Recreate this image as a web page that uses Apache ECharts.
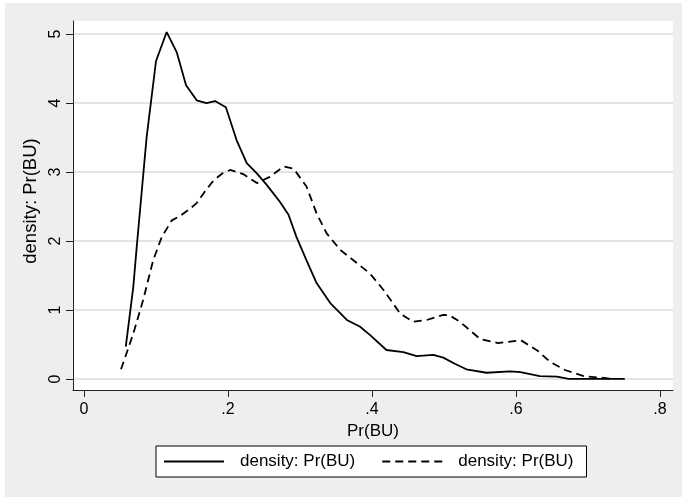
<!DOCTYPE html>
<html>
<head>
<meta charset="utf-8">
<script src="https://cdn.jsdelivr.net/npm/echarts@6/dist/echarts.min.js"></script>
<style>
html,body{margin:0;padding:0;background:#fff;}
#bg{position:absolute;left:5px;top:3px;width:677px;height:494px;background:#eeeeee;}
#chart{position:absolute;left:0;top:0;width:682px;height:497px;}
</style>
</head>
<body>
<div id="bg"></div>
<div id="chart"></div>
<script>
// Kernel density estimates, [Pr(BU), density]
const solidDensity = [
  [0.058,0.47],[0.0685,1.34],[0.073,1.89],[0.087,3.51],[0.100,4.61],[0.1148,5.03],
  [0.1287,4.74],[0.1417,4.26],[0.1565,4.04],[0.170,4.00],[0.182,4.03],[0.197,3.94],
  [0.212,3.46],[0.226,3.13],[0.240,2.98],[0.254,2.81],[0.272,2.57],[0.284,2.38],
  [0.295,2.06],[0.309,1.72],[0.323,1.39],[0.342,1.10],[0.365,0.855],[0.383,0.76],
  [0.397,0.64],[0.420,0.42],[0.4435,0.39],[0.462,0.33],[0.485,0.35],[0.499,0.31],
  [0.515,0.22],[0.531,0.14],[0.559,0.09],[0.592,0.11],[0.606,0.10],[0.633,0.04],
  [0.657,0.035],[0.673,0.0],[0.707,0.0],[0.751,0.0]
];
const dashedDensity = [
  [0.0514,0.14],[0.0685,0.66],[0.082,1.14],[0.096,1.72],[0.108,2.06],[0.122,2.30],
  [0.133,2.36],[0.145,2.45],[0.1565,2.55],[0.168,2.72],[0.180,2.88],[0.192,2.98],
  [0.203,3.03],[0.221,2.97],[0.240,2.84],[0.258,2.93],[0.277,3.08],[0.291,3.05],
  [0.309,2.79],[0.323,2.40],[0.337,2.11],[0.356,1.87],[0.379,1.68],[0.397,1.53],
  [0.416,1.29],[0.439,0.95],[0.457,0.83],[0.476,0.855],[0.499,0.93],[0.508,0.92],
  [0.522,0.83],[0.550,0.58],[0.575,0.52],[0.607,0.56],[0.630,0.41],[0.647,0.25],
  [0.668,0.13],[0.694,0.04],[0.717,0.02],[0.735,0.0]
];
const xTicks = [0, 0.2, 0.4, 0.6, 0.8];
const yTicks = [0, 1, 2, 3, 4, 5];
const seriesNames = ['density: Pr(BU)', 'density: Pr(BU) '];
const xTitle = 'Pr(BU)';
const yTitle = 'density: Pr(BU)';

const FONT = 'Liberation Sans, Arial, sans-serif';
const chart = echarts.init(document.getElementById('chart'), null, {renderer: 'canvas'});
const fmtX = v => (v === 0 ? '0' : String(+v.toFixed(1)).replace(/^0/, ''));

chart.setOption({
  animation: false,
  grid: {
    left: 73, top: 21, right: 9, bottom: 107,
    show: true, backgroundColor: '#ffffff', borderWidth: 0,
    containLabel: false, outerBoundsMode: 'none'
  },
  legend: {
    left: 156, top: 446,
    data: [
      {name: seriesNames[0]},
      {name: seriesNames[1]}
    ],
    selectedMode: false,
    itemWidth: 60, itemHeight: 14, itemGap: 26,
    padding: [7, 13, 7, 7],
    itemStyle: {opacity: 0, color: 'rgba(0,0,0,0)', borderWidth: 0},
    backgroundColor: '#ffffff', borderColor: '#000000', borderWidth: 1, borderRadius: 0,
    formatter: n => '{t|' + n.trim() + '}',
    textStyle: {
      fontFamily: FONT, fontSize: 17, color: '#000',
      rich: {t: {fontFamily: FONT, fontSize: 17, color: '#000', padding: [0, 0, 0, 11]}}
    }
  },
  xAxis: {
    type: 'value', min: -0.0153, max: 0.818,
    name: xTitle, nameLocation: 'middle', nameGap: 28,
    nameTextStyle: {fontFamily: FONT, fontSize: 17, color: '#000'},
    axisLine: {show: true, onZero: false, lineStyle: {color: '#222', width: 1}},
    axisTick: {show: true, customValues: xTicks, length: 7, lineStyle: {color: '#222', width: 1}},
    axisLabel: {customValues: xTicks, formatter: fmtX, fontFamily: FONT, fontSize: 16, color: '#000', margin: 12},
    splitLine: {show: false}
  },
  yAxis: {
    type: 'value', min: -0.16, max: 5.19,
    name: yTitle, nameLocation: 'middle', nameGap: 25, nameRotate: 90,
    nameTextStyle: {fontFamily: FONT, fontSize: 18.5, color: '#000', padding: [0, 0, 0, 9]},
    axisLine: {show: true, onZero: false, lineStyle: {color: '#222', width: 1}},
    axisTick: {show: true, customValues: yTicks, length: 7, lineStyle: {color: '#222', width: 1}},
    axisLabel: {customValues: yTicks, rotate: 90, fontFamily: FONT, fontSize: 16, color: '#000', margin: 9},
    splitLine: {show: true, lineStyle: {color: '#e4e4e4', width: 2}}
  },
  series: [
    {
      name: seriesNames[0], type: 'line', data: solidDensity,
      symbol: 'none', showSymbol: false, smooth: false,
      itemStyle: {color: '#000'},
      lineStyle: {color: '#000', width: 1.8, type: 'solid'}
    },
    {
      name: seriesNames[1], type: 'line', data: dashedDensity,
      symbol: 'none', showSymbol: false, smooth: false,
      itemStyle: {color: '#000'},
      lineStyle: {color: '#000', width: 1.8, type: [8, 5]}
    }
  ]
});
</script>
</body>
</html>
